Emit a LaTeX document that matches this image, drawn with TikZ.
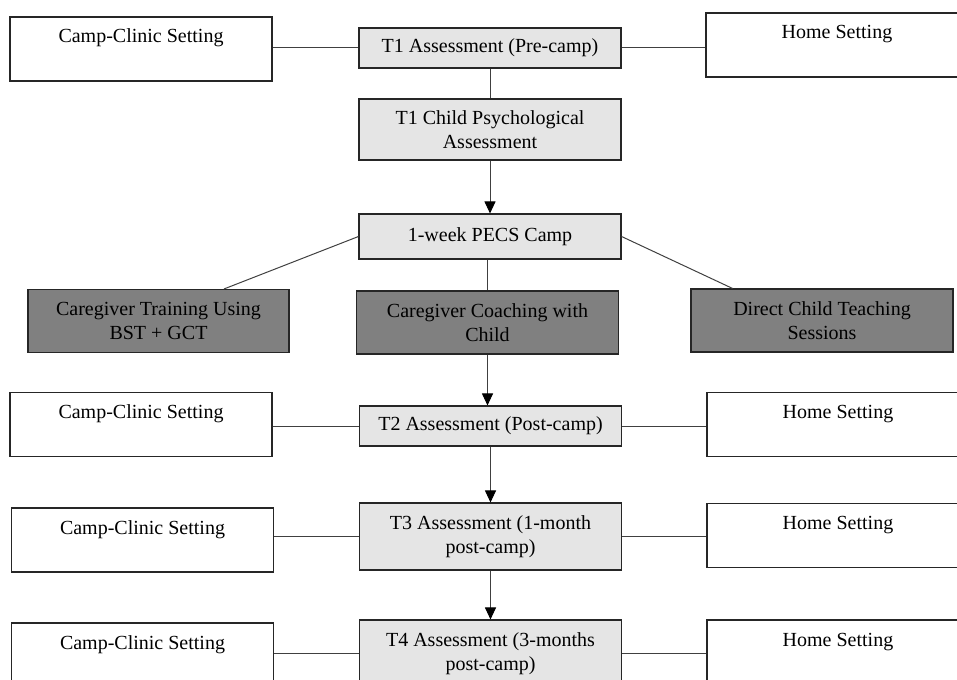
\documentclass[tikz,border=0pt]{standalone}
\usepackage{fontspec}
\setmainfont{Liberation Serif}
\usepackage{tikz}
\usetikzlibrary{arrows.meta}
\usetikzlibrary{calc}

\begin{document}
\begin{tikzpicture}[x=1pt,y=-1pt,
    setbox/.style={draw=black!85, line width=1.1pt, minimum width=262pt, inner sep=0pt, text height=26pt, text depth=38pt},
    lightbox/.style={draw=black!85, line width=1.1pt, fill=gray!20, minimum width=262pt, inner sep=0pt, align=center},
    darkbox/.style={draw=black!85, line width=1.1pt, fill=gray, minimum width=262pt, minimum height=63pt, inner sep=0pt, align=center},
    link/.style={draw=black!75, line width=1pt},
    flow/.style={draw=black!75, line width=1pt, -{Triangle[length=12pt,width=11pt,black]}}]
     \useasboundingbox (0,0) rectangle (957,679);
     \clip (0,0) rectangle (957,679);
     \fontsize{20}{24}\selectfont
     \node[setbox] (camp1) at (141,49) {Camp-Clinic Setting};
     \node[setbox] (home1) at (837,45) {Home Setting};
     \node[lightbox, minimum height=40pt] (t1) at (490,48) {T1 Assessment (Pre-camp)};
     \node[lightbox, minimum height=61pt] (t1child) at (490,129.5) {T1 Child Psychological\\Assessment};
     \node[lightbox, minimum height=45pt] (pecs) at (490,236.5) {1-week PECS Camp};
     \node[darkbox, minimum width=261pt] (train) at (158.5,321) {Caregiver Training Using\\BST + GCT};
     \node[darkbox] (coach) at (487.5,322.5) {Caregiver Coaching with\\Child};
     \node[darkbox] (direct) at (822,320.5) {Direct Child Teaching\\Sessions};
     \node[setbox] (camp2) at (141,424.5) {Camp-Clinic Setting};
     \node[setbox] (home2) at (838,424.5) {Home Setting};
     \node[lightbox, minimum height=40pt] (t2) at (490.5,426) {T2 Assessment (Post-camp)};
     \node[setbox] (camp3) at (142.5,540) {Camp-Clinic Setting};
     \node[setbox] (home3) at (838,535.5) {Home Setting};
     \node[lightbox, minimum height=67pt] (t3) at (490.5,536.5) {T3 Assessment (1-month\\post-camp)};
     \node[setbox] (camp4) at (142.5,655) {Camp-Clinic Setting};
     \node[setbox] (home4) at (838,652) {Home Setting};
     \node[lightbox, minimum height=67pt] (t4) at (490.5,653.5) {T4 Assessment (3-months\\post-camp)};
     \draw[link] (t1.west) -- (t1.west -| camp1.east);
     \draw[link] (t1.east) -- (t1.east -| home1.west);
     \draw[link] (t1.south) -- (t1child.north);
     \draw[flow] (t1child.south) -- (pecs.north);
     \draw[link] (pecs.west) -- ($(train.north west)!.75!(train.north east)$);
     \draw[link] (pecs.east) -- ($(direct.north west)!.16!(direct.north east)$);
     \draw[link] (coach.north |- pecs.south) -- (coach.north);
     \draw[flow] (coach.south) -- (coach.south |- t2.north);
     \draw[link] (t2.west) -- (t2.west -| camp2.east);
     \draw[link] (t2.east) -- (t2.east -| home2.west);
     \draw[flow] (t2.south) -- (t3.north);
     \draw[link] (t3.west) -- (t3.west -| camp3.east);
     \draw[link] (t3.east) -- (t3.east -| home3.west);
     \draw[flow] (t3.south) -- (t4.north);
     \draw[link] (t4.west) -- (t4.west -| camp4.east);
     \draw[link] (t4.east) -- (t4.east -| home4.west);
    \end{tikzpicture}
\end{document}
